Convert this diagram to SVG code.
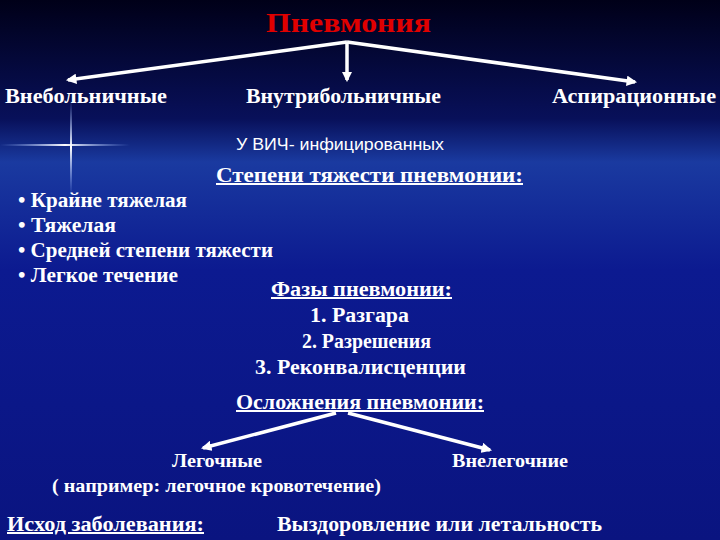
<svg xmlns="http://www.w3.org/2000/svg" width="720" height="540" viewBox="0 0 720 540">
<defs>
<linearGradient id="bg" x1="0" y1="0" x2="0" y2="1">
<stop offset="0" stop-color="#000018"/>
<stop offset="0.22" stop-color="#08105a"/>
<stop offset="0.3" stop-color="#1a3aa0"/>
<stop offset="0.5" stop-color="#0c1a90"/>
<stop offset="1" stop-color="#0a1480"/>
</linearGradient>
<linearGradient id="hl" x1="0" y1="0" x2="1" y2="0">
<stop offset="0" stop-color="#8fb0ff" stop-opacity="0"/>
<stop offset="0.5" stop-color="#ffffff"/>
<stop offset="1" stop-color="#8fb0ff" stop-opacity="0"/>
</linearGradient>
<linearGradient id="vl" x1="0" y1="0" x2="0" y2="1">
<stop offset="0" stop-color="#8fb0ff" stop-opacity="0"/>
<stop offset="0.5" stop-color="#ffffff"/>
<stop offset="1" stop-color="#8fb0ff" stop-opacity="0"/>
</linearGradient>
<marker id="ah" viewBox="0 0 10 10" refX="8" refY="5" markerWidth="3" markerHeight="3" orient="auto">
<path d="M0,0 L10,5 L0,10 z" fill="#fff"/>
</marker>
<style>
.t{font-family:"Liberation Serif",serif;font-weight:bold;fill:#fff;font-size:20px}
.u{text-decoration:underline}
.c{stroke:#fff;stroke-width:3.5;fill:none;marker-end:url(#ah)}
</style>
</defs>
<rect width="720" height="540" fill="url(#bg)"/>
<rect x="0" y="144" width="130" height="2" fill="url(#hl)"/>
<rect x="70" y="100" width="2" height="95" fill="url(#vl)"/>
<g id="connectors">
<path class="c" d="M347,42 L68,80"/>
<path class="c" d="M347,42 L347,80"/>
<path class="c" d="M347,42 L635,82"/>
<path class="c" d="M336,413 L203,448"/>
<path class="c" d="M348,413 L490,450"/>
</g>
<g id="title"><text class="t" x="266" y="32" textLength="165" lengthAdjust="spacingAndGlyphs" style="fill:#e00000;font-size:27px">Пневмония</text></g>
<g id="n1"><text class="t" x="5" y="103" textLength="162" lengthAdjust="spacingAndGlyphs">Внебольничные</text></g>
<g id="n2"><text class="t" x="246" y="103" textLength="195" lengthAdjust="spacingAndGlyphs">Внутрибольничные</text></g>
<g id="n3"><text class="t" x="552" y="103" textLength="164" lengthAdjust="spacingAndGlyphs">Аспирационные</text></g>
<g id="n4"><text x="236" y="150" textLength="208" lengthAdjust="spacingAndGlyphs" style="font-family:'Liberation Sans',sans-serif;font-size:16px;fill:#fff">У ВИЧ- инфицированных</text></g>
<g id="n5"><text class="t u" x="216" y="182" textLength="307" lengthAdjust="spacingAndGlyphs">Степени тяжести пневмонии:</text></g>
<g id="n6"><text class="t" x="18" y="207" textLength="169" lengthAdjust="spacingAndGlyphs">• Крайне тяжелая</text>
<text class="t" x="18" y="232" textLength="98" lengthAdjust="spacingAndGlyphs">• Тяжелая</text>
<text class="t" x="18" y="257" textLength="255" lengthAdjust="spacingAndGlyphs">• Средней степени тяжести</text>
<text class="t" x="18" y="282" textLength="160" lengthAdjust="spacingAndGlyphs">• Легкое течение</text></g>
<g id="n7"><text class="t u" x="271" y="296" textLength="181" lengthAdjust="spacingAndGlyphs">Фазы пневмонии:</text>
<text class="t" x="310" y="322" textLength="99" lengthAdjust="spacingAndGlyphs">1. Разгара</text>
<text class="t" x="302" y="348" textLength="129" lengthAdjust="spacingAndGlyphs">2. Разрешения</text>
<text class="t" x="255" y="374" textLength="211" lengthAdjust="spacingAndGlyphs">3. Реконвалисценции</text></g>
<g id="n8"><text class="t u" x="236" y="409" textLength="248" lengthAdjust="spacingAndGlyphs">Осложнения пневмонии:</text></g>
<g id="n9"><text class="t" x="172" y="467" textLength="90" lengthAdjust="spacingAndGlyphs" style="font-size:18px">Легочные</text>
<text class="t" x="52" y="492" textLength="329" lengthAdjust="spacingAndGlyphs" style="font-size:18px">( например: легочное кровотечение)</text></g>
<g id="n10"><text class="t" x="452" y="467" textLength="116" lengthAdjust="spacingAndGlyphs" style="font-size:18px">Внелегочние</text></g>
<g id="n11"><text class="t u" x="7" y="531" textLength="197" lengthAdjust="spacingAndGlyphs">Исход заболевания:</text></g>
<g id="n12"><text class="t" x="277" y="531" textLength="325" lengthAdjust="spacingAndGlyphs">Выздоровление или летальность</text></g>
</svg>
